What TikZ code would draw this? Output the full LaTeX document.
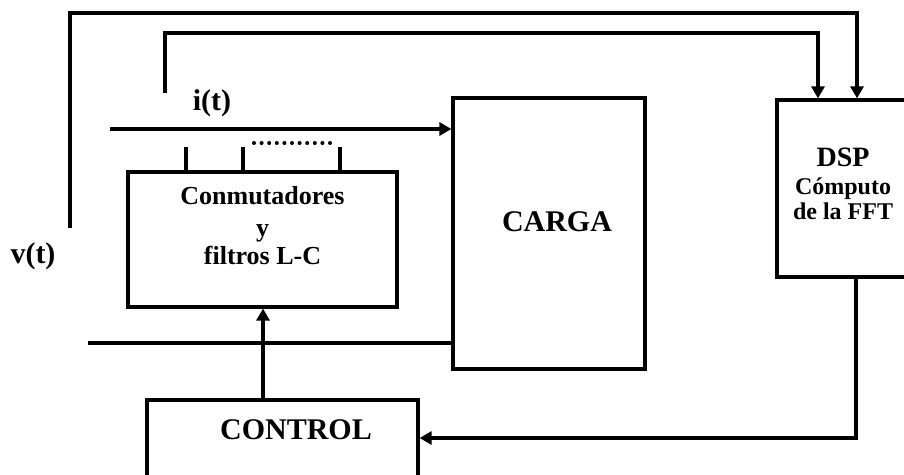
\documentclass[tikz,border=0pt]{standalone}
\usepackage{fontspec}
\setmainfont{Liberation Serif}
\usepackage{tikz}
\usetikzlibrary{arrows.meta,positioning,calc}

\begin{document}
\begin{tikzpicture}[
    x=1pt, y=-1pt,
    block/.style={rectangle, draw=black, line width=3.2pt, inner sep=0pt, minimum width=#1},
    lbl/.style={font=\fontsize{#1}{#1}\selectfont\bfseries, align=center, inner sep=0pt},
    lbl/.default=30,
    wire/.style={line width=3.2pt},
    sig/.style={wire, -{Triangle[length=12pt,width=13pt]}}
]
    \clip (0,0) rectangle (904,474);
    \useasboundingbox (0,0) rectangle (904,474);

    % Blocks
    \node[block=269pt, minimum height=135pt] (conm) at (262.5,239.5) {};
    \node[block=192pt, minimum height=271pt] (carga) at (549,233.5) {};
    \node[block=136pt, minimum height=177pt] (dsp) at (845,188.5) {};
    \node[block=271pt, minimum height=100pt] (control) at (282.5,450) {};

    % Block texts
    \node[lbl=26] (conmtxt) at (262.5,226) {Conmutadores\\[6pt]y\\[2pt]filtros L-C};
    \node[lbl] (cargatxt) at (557,222) {CARGA};
    \node[lbl=28] (dsptxt) at (843,157) {DSP};
    \node[lbl=24, below=11pt of dsptxt] (fft) {Cómputo\\[1pt]de la FFT};
    \node[lbl] (controltxt) at (296,430) {CONTROL};

    % Signal labels
    \node[lbl] (ilbl) at (212,103) {i(t)};
    \node[lbl] (vlbl) at (33,256) {v(t)};

    % Free ends
    \coordinate (vstart) at (70,228);
    \coordinate (istart) at (165,93);
    \coordinate (iin) at (110,129);
    \coordinate (bstart) at (88,343);

    % Measurement loops to the DSP
    \draw[sig] (vstart) |- (857,13) -- (857,13 |- dsp.north);
    \draw[sig] (istart) |- (818,33) -- (818,33 |- dsp.north);

    % Lines to the load
    \draw[sig] (iin) -- (iin -| carga.west);
    \draw[wire] (bstart) -- (bstart -| carga.west);

    % Switch taps
    \foreach \x/\n in {186/a, 243/b, 340/c} {
        \coordinate (tap\n) at (\x,147);
        \draw[wire] (tap\n) -- (tap\n |- conm.north);
    }
    \draw[line width=4pt, line cap=round, dash pattern=on 0pt off 7.6pt] (254,143) -- (333,143);

    % Control paths
    \draw[sig] (263,0 |- control.north) -- (263,0 |- conm.south);
    \draw[sig] (856,0 |- dsp.south) |- (control.east |- 0,438);
\end{tikzpicture}
\end{document}
